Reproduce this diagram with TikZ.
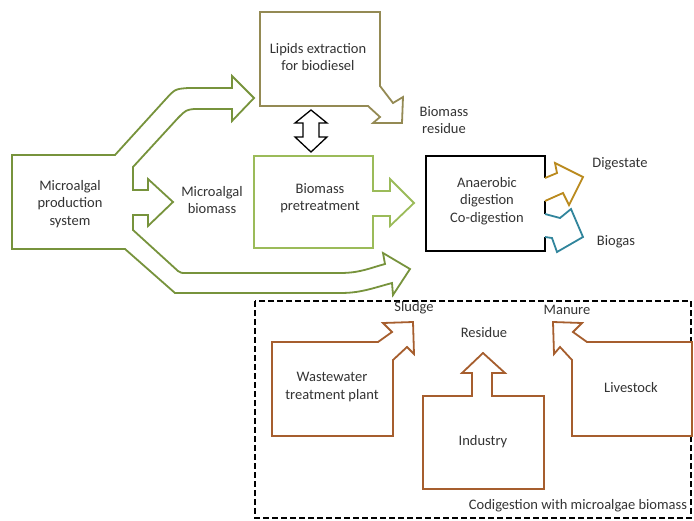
\documentclass[tikz,border=0pt]{standalone}
\usepackage{fontspec}
\setmainfont{Carlito}
\usepackage{tikz}
\usetikzlibrary{positioning}
\definecolor{AlgaGreen}{HTML}{77933C}
\definecolor{LipidTan}{HTML}{948A54}
\definecolor{PretreatGreen}{HTML}{9BBB59}
\definecolor{DigestGold}{HTML}{BA8A1E}
\definecolor{BiogasTeal}{HTML}{31859C}
\definecolor{WasteBrown}{HTML}{A65E2E}

\begin{document}
\begin{tikzpicture}[x=1pt, y=-1pt,
  blockarrow/.style={line width=1.8pt, fill=white, line join=miter},
  lbl/.style={font=\fontsize{14.5}{17.5}\selectfont, align=center, inner sep=0pt, text=black!80}
]
\useasboundingbox (0,0) rectangle (694,520);

%% ---- Microalgal production system (three outgoing arrows) ----
\draw[blockarrow, draw=AlgaGreen]
  (12,155) -- (115,155) -- (165,100) .. controls (175,89) .. (188,88) -- (232,88)
  -- (232,76) -- (254,98) -- (232,121) -- (232,109) -- (194,109)
  .. controls (186,110) .. (178,118) -- (133,167) -- (133,190) -- (148,190)
  -- (148,179) -- (173,202) -- (148,226) -- (148,215) -- (133,215) -- (133,230)
  -- (178,271) .. controls (181,273) .. (186,273) -- (340,273)
  .. controls (360,273) and (370,268) .. (385,264) -- (383,253)
  -- (410,269) -- (393,295) -- (392,283)
  .. controls (370,289) and (360,293) .. (340,293)
  -- (175,293) -- (125,249) -- (12,249) -- cycle;

%% ---- Lipids extraction ----
\draw[blockarrow, draw=LipidTan]
  (260,12) -- (380,12) -- (380,86) -- (393,103) -- (403,97) -- (402,123)
  -- (373,123) -- (380,117) -- (368,106) -- (260,106) -- cycle;

%% ---- two-way arrow ----
\draw[blockarrow, line width=1.3pt, draw=black]
  (311,110) -- (327,123) -- (319,123) -- (319,137) -- (327,137) -- (311,152)
  -- (295,137) -- (303,137) -- (303,123) -- (295,123) -- cycle;

%% ---- Biomass pretreatment ----
\draw[blockarrow, draw=PretreatGreen]
  (254,156) -- (373,156) -- (373,191) -- (390,191) -- (390,179) -- (414,203)
  -- (390,226) -- (390,216) -- (373,216) -- (373,248) -- (254,248) -- cycle;

%% ---- Anaerobic digestion and its outputs ----
\draw[line width=1.8pt] (545,178) -- (545,156) -- (426,156) -- (426,251) -- (545,251) -- (545,237);
\draw[line width=1.8pt] (545,201) -- (545,214);
\draw[blockarrow, draw=DigestGold]
  (545,178) -- (557,173) -- (555,163) -- (583,177) -- (569,205) -- (563,193) -- (545,201);
\draw[blockarrow, draw=BiogasTeal]
  (545,214) -- (560,218) -- (571,209) -- (583,237) -- (557,252) -- (552,238) -- (545,237);

%% ---- Codigestion sources ----
\draw[line width=1.8pt, dash pattern=on 6pt off 3pt] (255,301) rectangle (691,518);
\draw[blockarrow, draw=WasteBrown]
  (272,342) -- (378,342) -- (392,332) -- (383,323) -- (413,322) -- (414,354)
  -- (407,347) -- (393,360) -- (393,436) -- (272,436) -- cycle;
\draw[blockarrow, draw=WasteBrown]
  (423,396) -- (472,396) -- (472,373) -- (462,373) -- (483,353) -- (505,373)
  -- (492,373) -- (492,396) -- (544,396) -- (544,489) -- (423,489) -- cycle;
\draw[blockarrow, draw=WasteBrown]
  (692,342) -- (587,342) -- (573,332) -- (582,323) -- (553,322) -- (554,354)
  -- (560,347) -- (572,360) -- (572,436) -- (692,436) -- cycle;

%% ---- Labels ----
\node[lbl] (lipids)   at (318,57)  {Lipids extraction\\for biodiesel};
\node[lbl] (residue)  at (444,120) {Biomass\\residue};
\node[lbl] (prodsys)  at (70,204)  {Microalgal\\production\\system};
\node[lbl] (algabio)  at (212,200) {Microalgal\\biomass};
\node[lbl] (pretreat) at (320,198) {Biomass\\pretreatment};
\node[lbl] (anaer)    at (487,201) {Anaerobic\\digestion\\Co-digestion};
\node[lbl] (digest)   at (620,164) {Digestate};
\node[lbl] (biogas)   at (616,242) {Biogas};
\node[lbl] (sludge)   at (414,308) {Sludge};
\node[lbl] (manure)   at (567,310) {Manure};
\node[lbl] (resid)    at (484,333) {Residue};
\node[lbl] (wwtp)     at (332,387) {Wastewater\\treatment plant};
\node[lbl] (industry) at (483,442) {Industry};
\node[lbl] (livest)   at (631,388) {Livestock};
\node[lbl] (codig)    at (578,506) {Codigestion with microalgae biomass};

\end{tikzpicture}
\end{document}
